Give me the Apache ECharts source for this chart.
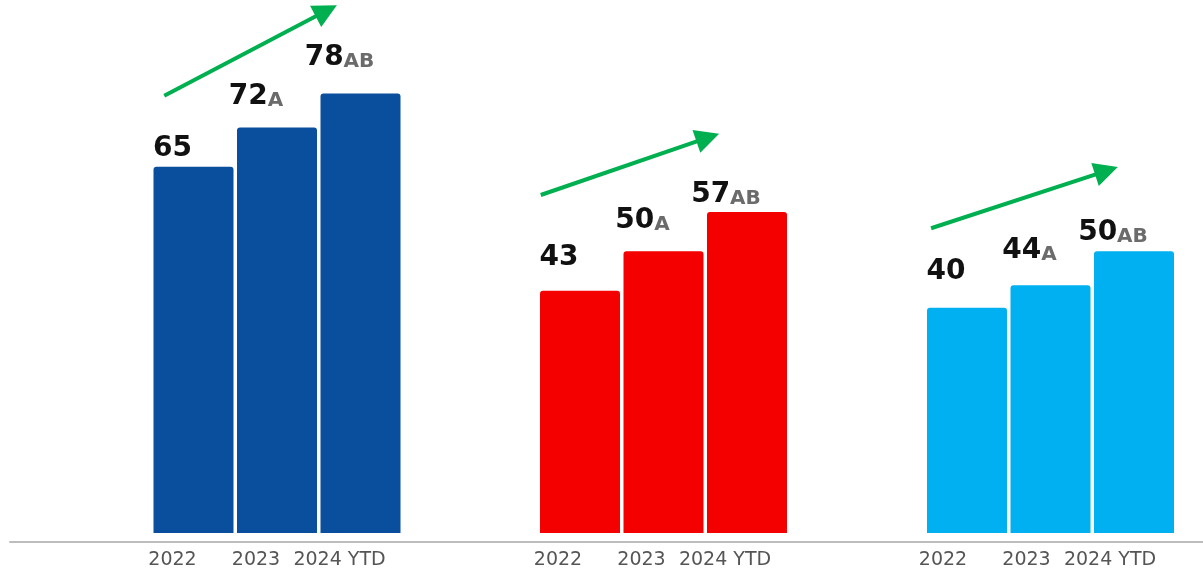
<!DOCTYPE html>
<html>
<head>
<meta charset="utf-8">
<script src="https://cdn.jsdelivr.net/npm/echarts@6/dist/echarts.min.js"></script>
<style>
  html, body { margin: 0; padding: 0; background: #fff; }
  #chart { width: 1203px; height: 571px; }
</style>
</head>
<body>
<div id="chart"></div>
<script>
// Year categories shared by every group
const categories = ['2022', '2023', '2024 YTD'];

// Scores per group, one bar per year
const valuesBlue = [65, 72, 78];
const valuesRed = [43, 50, 57];
const valuesCyan = [40, 44, 50];

// Significance letters shown after each value
const sigLetters = ['', 'A', 'AB'];

// Trend arrows, in data units of each group: [slot position, value]
const arrowStart = [[-0.35, 77.6], [-0.47, 60.0], [-0.43, 54.1]];
const arrowEnd = [[1.59, 92.7], [1.53, 70.2], [1.67, 64.3]];

// Extra lift (px) of each value label above its bar
const labelLift = [[1, -12, -17], [-14, -12, 2], [-17, -15, 0]];

const groupValues = [valuesBlue, valuesRed, valuesCyan];
const groupColors = ['#0a4e9e', '#f50000', '#00b0f0'];
const groupLefts = [151.75, 538.25, 925.25];
const labelShift = [42, 44, 48];

const grids = [];
const xAxes = [];
const yAxes = [];
const series = [];

groupValues.forEach((vals, g) => {
  grids.push({ left: groupLefts[g], width: 250.5, top: 26, bottom: 38 });
  xAxes.push({
    type: 'category', gridIndex: g, data: categories,
    axisLine: { show: false }, axisTick: { show: false },
    axisLabel: {
      interval: 0, hideOverlap: false,
      margin: 18, fontFamily: 'DejaVu Sans', fontSize: 19, color: '#555',
      padding: [0, labelShift[g], 0, 0]
    }
  });
  xAxes.push({ type: 'value', gridIndex: g, min: -0.5, max: 2.5, show: false });
  yAxes.push({ type: 'value', gridIndex: g, min: 0, max: 90, show: false });

  series.push({
    type: 'bar', xAxisIndex: 2 * g, yAxisIndex: g,
    data: vals.map((v, i) => ({
      value: v,
      label: { offset: [-21, labelLift[g][i]] }
    })),
    barWidth: 80,
    itemStyle: { color: groupColors[g], borderRadius: [3, 3, 0, 0] },
    label: {
      show: true, position: 'top', distance: 5,
      formatter: (p) => '{v|' + p.value + '}{s|' + sigLetters[p.dataIndex] + '}',
      rich: {
        v: { fontFamily: 'DejaVu Sans', fontWeight: 'bold', fontSize: 28, lineHeight: 28, color: '#111' },
        s: { fontFamily: 'DejaVu Sans', fontWeight: 'bold', fontSize: 20, lineHeight: 24, color: '#6b6b6b', verticalAlign: 'bottom' }
      }
    }
  });

  series.push({
    type: 'lines', coordinateSystem: 'cartesian2d',
    xAxisIndex: 2 * g + 1, yAxisIndex: g, clip: false,
    symbol: ['none', 'triangle'], symbolSize: [22, 24],
    lineStyle: { color: '#00b050', width: 4, opacity: 1 },
    itemStyle: { color: '#00b050' },
    data: [{ coords: [arrowStart[g], arrowEnd[g]] }]
  });
});

// Full-width baseline under all groups
grids.push({ left: 10, right: 0, top: 0, bottom: 29 });
xAxes.push({
  type: 'value', gridIndex: 3, min: 0, max: 1,
  axisLine: { show: true, lineStyle: { color: '#bdbdbd', width: 2 } },
  axisTick: { show: false }, axisLabel: { show: false }, splitLine: { show: false }
});
yAxes.push({ type: 'value', gridIndex: 3, show: false });

const chart = echarts.init(document.getElementById('chart'), null, { renderer: 'canvas' });
chart.setOption({
  animation: false,
  grid: grids,
  xAxis: xAxes,
  yAxis: yAxes,
  series: series
});
</script>
</body>
</html>
